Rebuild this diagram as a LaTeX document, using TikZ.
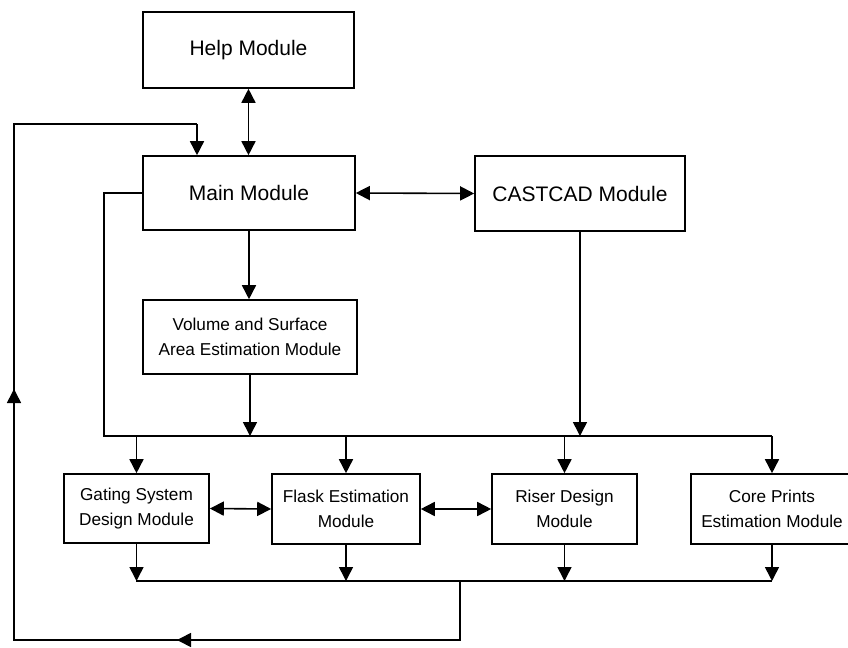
\documentclass[tikz,border=0pt]{standalone}
\usepackage{fontspec}
\setmainfont{Liberation Sans}
\usetikzlibrary{arrows.meta}
\tikzset{
  modbox/.style={draw, line width=0.8pt, inner sep=0pt, align=center},
  bigtext/.style={font=\fontsize{10.5}{12.6}\selectfont},
  smalltext/.style={font=\fontsize{8.6}{12.8}\selectfont},
  arr/.style={-{Triangle[length=7pt,width=7pt]}},
  darr/.style={{Triangle[length=7pt,width=7pt]}-{Triangle[length=7pt,width=7pt]}},
}
\begin{document}
\begin{tikzpicture}[x=0.5pt,y=-0.5pt,line width=0.8pt]
    \useasboundingbox (0,0) rectangle (848,648);
    %modules
    \node[modbox,bigtext,minimum width=105.5pt,minimum height=38pt] (help) at (248.5,50) {Help Module};
    \node[modbox,bigtext,minimum width=106pt,minimum height=37pt] (main) at (249,193) {Main Module};
    \node[modbox,bigtext,minimum width=105pt,minimum height=37.5pt] (cast) at (580,193.5) {CASTCAD Module};
    \node[modbox,smalltext,minimum width=107pt,minimum height=37pt] (vsa) at (250,337) {Volume and Surface\\Area Estimation Module};
    \node[modbox,smalltext,minimum width=72.5pt,minimum height=34.5pt] (gate) at (136.5,508.5) {Gating System\\Design Module};
    \node[modbox,smalltext,minimum width=74pt,minimum height=35pt] (flask) at (346,509) {Flask Estimation\\Module};
    \node[modbox,smalltext,minimum width=72.5pt,minimum height=35pt] (riser) at (564.5,509) {Riser Design\\Module};
    \node[modbox,smalltext,minimum width=81pt,minimum height=35pt] (core) at (772,509) {Core Prints\\Estimation Module};

    %bus points
    \coordinate (bustop) at (104,436);
    \coordinate (busbot) at (136,581);
    \coordinate (retup) at (460,581);
    \coordinate (retdn) at (460,640);
    \coordinate (retleft) at (14,640);
    \coordinate (rettop) at (14,124);
    \coordinate (retin) at (197,124);

    %upper links
    \draw[darr] (help.south) -- (help.south |- main.north);
    \draw[darr] (main.east) -- (cast.west);
    \draw[arr] (main.south) -- (main.south |- vsa.north);
    \draw[arr] (vsa.south) -- (vsa.south |- bustop);
    \draw[arr] (cast.south) -- (cast.south |- bustop);

    %top bus
    \draw (main.west) -| (bustop) -- (core.north |- bustop);
    \foreach \m in {gate,flask,riser,core}
        \draw[arr] (\m.north |- bustop) -- (\m.north);

    %side links
    \draw[darr] (gate.east) -- (flask.west);
    \draw[darr] (flask.east) -- (riser.west);

    %bottom bus
    \draw (busbot) -- (core.south |- busbot);
    \foreach \m in {gate,flask,riser,core}
        \draw[arr] (\m.south) -- (\m.south |- busbot);

    %return loop
    \draw (retup) -- (retdn) -- (retleft) -- (rettop) -- (retin);
    \draw[arr] (retdn) -- (177,640);
    \draw[arr] (retleft) -- (14,389);
    \draw[arr] (retin) -- (retin |- main.north);
\end{tikzpicture}
\end{document}
